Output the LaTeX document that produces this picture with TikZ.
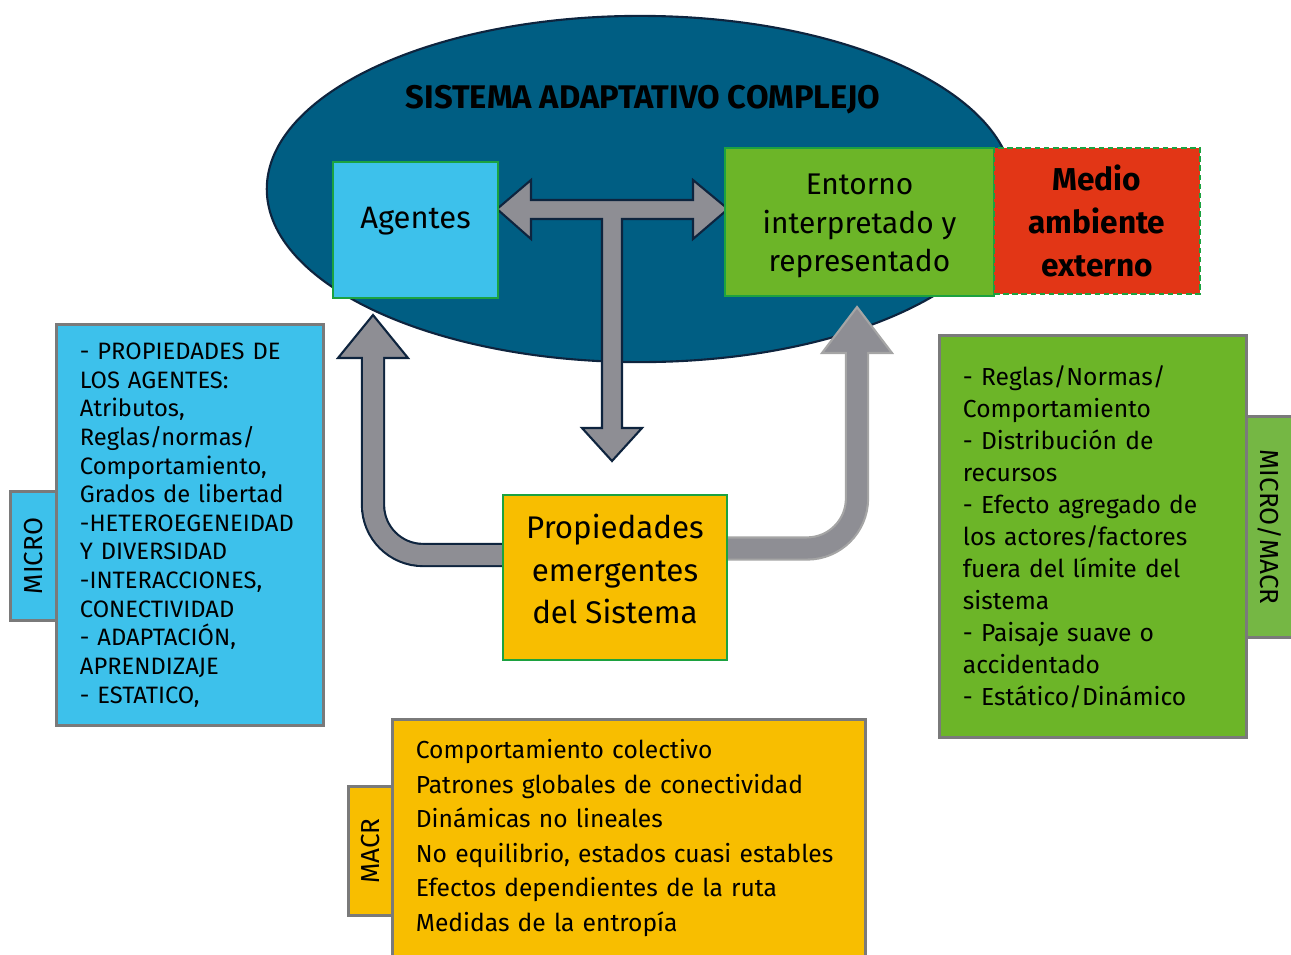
\documentclass[tikz,border=0pt]{standalone}
\usepackage{fontspec}
\setmainfont{Fira Sans}
\usetikzlibrary{shapes.geometric}

\definecolor{sacazul}{RGB}{0,94,131}
\definecolor{sacborde}{RGB}{14,36,62}
\definecolor{cian}{RGB}{61,193,235}
\definecolor{verde}{RGB}{108,181,40}
\definecolor{verdetab}{RGB}{117,183,68}
\definecolor{rojo}{RGB}{226,54,22}
\definecolor{amarillo}{RGB}{248,190,0}
\definecolor{verdeborde}{RGB}{28,162,64}
\definecolor{grisborde}{RGB}{122,122,122}
\definecolor{grisflecha}{RGB}{142,142,148}
\definecolor{grisclaro}{RGB}{165,165,165}

\begin{document}
\begin{tikzpicture}[x=0.01cm, y=-0.01cm]
    \tikzstyle{caja}=[rectangle, draw=verdeborde, line width=0.6pt, inner sep=0pt, align=center, font={\fontsize{8.5}{11}\selectfont}]
    \tikzstyle{lista}=[rectangle, draw=grisborde, line width=0.85pt, inner ysep=0pt, inner xsep=0.23cm, align=left]
    \tikzstyle{tab}=[rectangle, draw=grisborde, line width=0.85pt, inner sep=0pt, font={\fontsize{7.4}{9}\selectfont}]
    \tikzstyle{flecha}=[fill=grisflecha, draw=sacborde, line width=0.6pt]
    \useasboundingbox (0,0) rectangle (1291,954);

    % the system ellipse and its title
    \node[ellipse, draw=sacborde, line width=0.6pt, fill=sacazul, minimum width=7.46cm, minimum height=3.46cm] (sac) at (640,189) {};
    \node[font={\bfseries\fontsize{9.3}{11}\selectfont}] (titulo) at (643,100) {SISTEMA ADAPTATIVO COMPLEJO};

    % T arrow: agents <-> environment, down to the emergent properties
    \filldraw[flecha] (497,209) -- (531,180) -- (531,200) -- (693,200) -- (693,180) -- (728,209)
        -- (693,239) -- (693,219) -- (622,219) -- (622,428) -- (642,428) -- (612,461)
        -- (582,428) -- (602,428) -- (602,219) -- (531,219) -- (531,239) -- cycle;

    % boxes inside the system
    \node[caja, fill=cian, minimum width=1.65cm, minimum height=1.36cm, text height=6.5pt, text depth=7.6pt, font={\fontsize{8.8}{11}\selectfont}] (agentes) at (415.5,230) {Agentes};
    \node[caja, fill=verde, minimum width=2.69cm, minimum height=1.48cm] (entorno) at (859.5,222) {};
    \node[caja, draw=none] (entorno-txt) at (859.5,226) {Entorno\\interpretado y\\representado};
    \node[caja, fill=rojo, dashed, dash pattern=on 1.6pt off 1pt, minimum width=2.06cm, minimum height=1.46cm,
          font={\bfseries\fontsize{9}{12.2}\selectfont}] (medio) at (1097,221) {Medio\\ambiente\\externo};
    \node[caja, fill=amarillo, minimum width=2.24cm, minimum height=1.65cm] (prop) at (615,577.5) {};
    \node[caja, draw=none, font={\fontsize{8.9}{12}\selectfont}] (prop-txt) at (615,569) {Propiedades\\emergentes\\del Sistema};

    % feedback arrows from the emergent properties
    \coordinate (cizq) at (373,555);
    \coordinate (cder) at (857,548.5);
    \draw[sacborde, line width=6.9pt, rounded corners=0.5cm] (prop.west |- cizq) -- (cizq) -- (373,358);
    \filldraw[flecha] (338,358) -- (373,315) -- (408,358) -- cycle;
    \draw[grisflecha, line width=5.69pt, rounded corners=0.5cm] (prop.west |- cizq) -- (cizq) -- (373,355);

    \draw[grisclaro, line width=6.9pt, rounded corners=0.5cm] (prop.east |- cder) -- (cder) -- (857,353);
    \filldraw[flecha, draw=grisclaro] (822,353) -- (857,307) -- (892,353) -- cycle;
    \draw[grisflecha, line width=5.69pt, rounded corners=0.5cm] (prop.east |- cder) -- (cder) -- (857,350);

    % side tabs
    \node[tab, fill=cian, rotate=90, minimum width=1.28cm, minimum height=0.46cm] (tabmicro) at (34,556) {MICRO};
    \node[tab, fill=verdetab, rotate=-90, minimum width=2.2cm, minimum height=0.47cm] (tabmm) at (1269.5,527) {MICRO/MACR};
    \node[tab, fill=amarillo, rotate=90, minimum width=1.28cm, minimum height=0.44cm] (tabmacr) at (371,851) {MACR};

    % lists of properties
    \node[lista, fill=cian, minimum width=2.66cm, minimum height=4cm, text width=2.2cm,
          font={\fontsize{6.75}{8.14}\selectfont}] (micro) at (190,525)
        {- PROPIEDADES DE\\LOS AGENTES:\\Atributos,\\Reglas/normas/\\Comportamiento,\\Grados de libertad\\-HETEROEGENEIDAD\\Y DIVERSIDAD\\-INTERACCIONES,\\CONECTIVIDAD\\- ADAPTACIÓN,\\APRENDIZAJE\\- ESTATICO,};
    \node[lista, fill=verde, minimum width=3.06cm, minimum height=4.01cm, text width=2.6cm,
          font={\fontsize{7}{9.1}\selectfont}] (mm) at (1093,536.5)
        {- Reglas/Normas/\\Comportamiento\\- Distribución de\\recursos\\- Efecto agregado de\\los actores/factores\\fuera del límite del\\sistema\\- Paisaje suave o\\accidentado\\- Estático/Dinámico};
    \node[lista, fill=amarillo, minimum width=4.72cm, minimum height=2.36cm, text width=4.26cm,
          font={\fontsize{7}{9.85}\selectfont}] (macr) at (629,838)
        {Comportamiento colectivo\\Patrones globales de conectividad\\Dinámicas no lineales\\No equilibrio, estados cuasi estables\\Efectos dependientes de la ruta\\Medidas de la entropía};
\end{tikzpicture}
\end{document}
